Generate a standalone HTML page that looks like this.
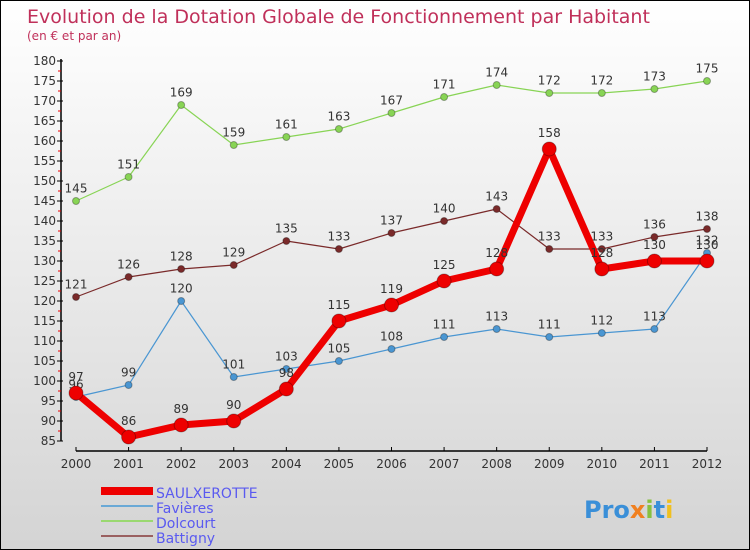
<!DOCTYPE html>
<html><head><meta charset="utf-8"><style>
body{margin:0}
#c{width:750px;height:550px;position:relative;background:linear-gradient(#ffffff,#d4d4d4);box-sizing:border-box;border:1px solid #000;overflow:hidden;font-family:"DejaVu Sans","Liberation Sans",sans-serif}
</style></head><body>
<div id="c">
<svg id="s" width="750" height="550" style="position:absolute;left:0;top:0"></svg>
</div>
<script>
const years=[2000,2001,2002,2003,2004,2005,2006,2007,2008,2009,2010,2011,2012];
const saulx=[97,86,89,90,98,115,119,125,128,158,128,130,130];
const favieres=[96,99,120,101,103,105,108,111,113,111,112,113,132];
const dolcourt=[145,151,169,159,161,163,167,171,174,172,172,173,175];
const battigny=[121,126,128,129,135,133,137,140,143,133,133,136,138];
const yTicks=[85,90,95,100,105,110,115,120,125,130,135,140,145,150,155,160,165,170,175,180];
const NS='http://www.w3.org/2000/svg';
const s=document.getElementById('s');
const X=i=>75+i*(706-75)/12;
const Y=v=>60+(180-v)*4;
function el(t,a,p){const e=document.createElementNS(NS,t);for(const k in a)e.setAttribute(k,a[k]);(p||s).appendChild(e);return e;}
let t=el('text',{x:26,y:22,fill:'#c0305a','font-size':19});t.textContent='Evolution de la Dotation Globale de Fonctionnement par Habitant';


t=el('text',{x:26,y:39,fill:'#c0305a','font-size':12});t.textContent='(en € et par an)';


// axes
let a=el('line',{x1:60,y1:58,x2:60,y2:440,stroke:'#000','stroke-width':1.5});


a=el('line',{x1:75,y1:450,x2:706,y2:450,stroke:'#000','stroke-width':1.5});


yTicks.forEach(v=>{
  el('line',{x1:56,y1:Y(v),x2:62,y2:Y(v),stroke:'#000'});
  if(v<180)el('line',{x1:57,y1:Y(v+2.5),x2:60,y2:Y(v+2.5),stroke:'#e00'});
  const l=el('text',{x:55,y:Y(v)+4,'text-anchor':'end','font-size':12,fill:'#333'});l.textContent=v;
  
  
});
years.forEach((yv,i)=>{
  el('line',{x1:X(i),y1:446,x2:X(i),y2:450,stroke:'#000'});
  const l=el('text',{x:X(i),y:467,'text-anchor':'middle','font-size':12,fill:'#333'});l.textContent=yv;
  
  
});
function series(data,color,w,r,name){
  const g=el('g',{});
  
  
  el('polyline',{points:data.map((v,i)=>X(i)+','+Y(v)).join(' '),fill:'none',stroke:color,'stroke-width':w,'stroke-linejoin':'round'},g);
  data.forEach((v,i)=>{
    const c=el('circle',{cx:X(i),cy:Y(v),r:r,fill:color,stroke:'rgba(0,0,0,0.3)'},g);
    
    
    const l=el('text',{x:X(i),y:Y(v)-(r+5),'text-anchor':'middle','font-size':12,fill:'#333'},g);l.textContent=v;
    
    
  });
}
series(dolcourt,'#88d455',1.2,3.5,'dolcourt');
series(battigny,'#7a2a2a',1.2,3.5,'battigny');
series(favieres,'#4a96d2',1.2,3.5,'favieres');
series(saulx,'#ee0000',7,7,'saulxerotte');
// legend
const leg=[['SAULXEROTTE','#ee0000',8,497],['Favières','#6aa9d6',2,512],['Dolcourt','#9ad870',2,527],['Battigny','#9a6060',2,542]];
leg.forEach(([n,c,w,y])=>{
  const g=el('g',{});
  
  
  el('line',{x1:100,y1:y-7,x2:152,y2:y-7,stroke:c,'stroke-width':w},g);
  const l=el('text',{x:155,y:y,'font-size':14,fill:'#5a5af0'},g);l.textContent=n;
});
// logo
const lg=el('text',{x:583,y:517,'font-size':24,'font-weight':'bold'});


[['Pro','#3a8fd8'],['x','#f08020'],['i','#88c040'],['t','#3a8fd8'],['i','#f0c020']].forEach(([c,f])=>{const ts=el('tspan',{fill:f},lg);ts.textContent=c;});
</script>
</body></html>
